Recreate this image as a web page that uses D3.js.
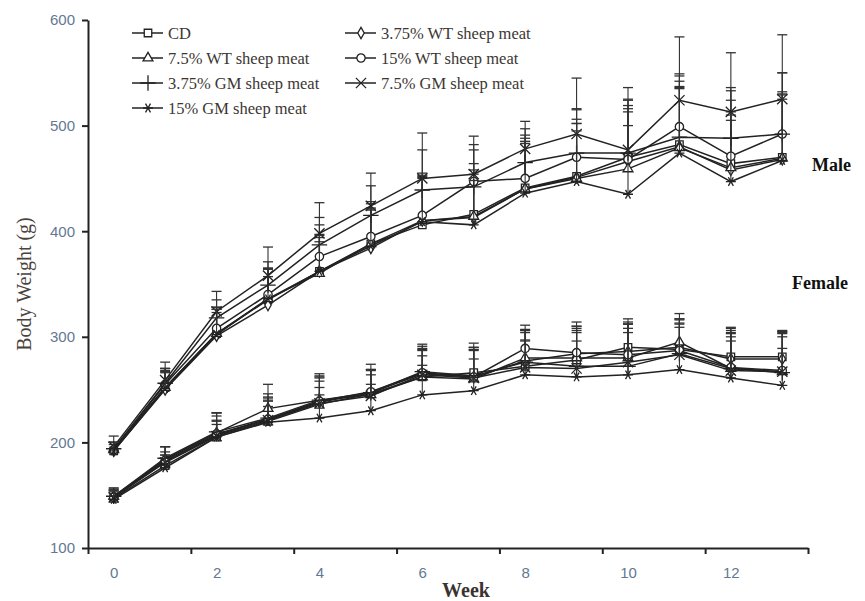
<!DOCTYPE html>
<html>
<head>
<meta charset="utf-8">
<script src="https://cdn.jsdelivr.net/npm/d3@7"></script>
<style>
  body { margin: 0; background: #fff; }
  svg { display: block; }
</style>
</head>
<body>
<div id="chart"></div>
<script>
// Data
const weeks = [0, 1, 2, 3, 4, 5, 6, 7, 8, 9, 10, 11, 12, 13];
const xTickMarks = [-0.5, 1.5, 3.5, 5.5, 7.5, 9.5, 11.5, 13.5];
const xTickLabels = [0, 2, 4, 6, 8, 10, 12];
const yTicks = [100, 200, 300, 400, 500, 600];
const seriesNames = ["CD", "3.75% WT sheep meat", "7.5% WT sheep meat", "15% WT sheep meat",
  "3.75% GM sheep meat", "7.5% GM sheep meat", "15% GM sheep meat"];

// Male means
const maleCD    = [192, 252, 303, 335, 362, 388, 406, 416, 441, 452, 470, 482, 464, 470];
const maleWT375 = [192, 250, 301, 330, 362, 384, 410, 413, 440, 451, 466, 480, 458, 468];
const maleWT75  = [193, 252, 303, 336, 360, 388, 410, 414, 440, 450, 459, 479, 460, 469];
const maleWT15  = [193, 255, 308, 340, 376, 395, 415, 447, 450, 470, 468, 499, 471, 492];
const maleGM375 = [194, 256, 318, 349, 387, 415, 439, 442, 465, 474, 474, 489, 488, 492];
const maleGM75  = [196, 259, 324, 358, 398, 424, 450, 454, 478, 492, 477, 524, 513, 525];
const maleGM15  = [192, 251, 302, 336, 362, 386, 409, 406, 436, 447, 435, 474, 447, 467];
// Male SD (upper bars)
const maleCDsd    = [8, 18, 25, 30, 35, 38, 45, 48, 50, 50, 55, 60, 60, 55];
const maleWT375sd = [6, 16, 22, 27, 32, 36, 40, 45, 48, 55, 50, 55, 55, 62];
const maleWT75sd  = [7, 15, 23, 28, 30, 34, 42, 40, 45, 52, 60, 58, 50, 60];
const maleWT15sd  = [7, 15, 20, 24, 30, 33, 40, 30, 35, 45, 45, 50, 62, 58];
const maleGM375sd = [6, 14, 17, 22, 26, 28, 38, 40, 32, 42, 50, 58, 48, 58];
const maleGM75sd  = [10, 17, 19, 27, 29, 31, 43, 36, 26, 53, 59, 60, 56, 61];
const maleGM15sd  = [8, 17, 24, 29, 34, 35, 44, 42, 47, 48, 65, 62, 58, 65];

// Female means
const femaleCD    = [147, 178, 205, 220, 236, 246, 262, 266, 272, 278, 290, 288, 281, 281];
const femaleWT375 = [148, 182, 207, 222, 238, 247, 265, 262, 277, 284, 286, 290, 279, 279];
const femaleWT75  = [149, 184, 209, 232, 240, 245, 262, 260, 280, 280, 280, 295, 270, 267];
const femaleWT15  = [148, 183, 208, 222, 239, 248, 266, 262, 289, 285, 283, 287, 271, 268];
const femaleGM375 = [149, 185, 210, 223, 240, 247, 267, 263, 276, 272, 272, 284, 270, 266];
const femaleGM75  = [148, 181, 206, 221, 237, 244, 264, 261, 271, 270, 276, 283, 268, 267];
const femaleGM15  = [146, 176, 205, 219, 223, 230, 245, 249, 264, 262, 264, 269, 261, 254];
// Female SD
const femaleCDsd    = [5, 10, 12, 14, 16, 18, 20, 22, 25, 28, 22, 25, 22, 22];
const femaleWT375sd = [6, 9, 14, 18, 20, 22, 22, 28, 30, 24, 26, 27, 25, 26];
const femaleWT75sd  = [7, 12, 16, 23, 22, 24, 26, 30, 24, 30, 32, 27, 30, 33];
const femaleWT15sd  = [9, 13, 20, 20, 26, 26, 27, 32, 22, 29, 34, 30, 38, 36];
const femaleGM375sd = [6, 11, 18, 20, 23, 22, 24, 24, 30, 32, 36, 28, 36, 40];
const femaleGM75sd  = [7, 15, 22, 25, 24, 24, 25, 27, 35, 40, 38, 33, 40, 38];
const femaleGM15sd  = [8, 12, 15, 20, 22, 25, 28, 30, 32, 34, 40, 40, 35, 35];

const maleMeans = [maleCD, maleWT375, maleWT75, maleWT15, maleGM375, maleGM75, maleGM15];
const maleSds = [maleCDsd, maleWT375sd, maleWT75sd, maleWT15sd, maleGM375sd, maleGM75sd, maleGM15sd];
const femaleMeans = [femaleCD, femaleWT375, femaleWT75, femaleWT15, femaleGM375, femaleGM75, femaleGM15];
const femaleSds = [femaleCDsd, femaleWT375sd, femaleWT75sd, femaleWT15sd, femaleGM375sd, femaleGM75sd, femaleGM15sd];

// marker shapes per series
const symbols = [
  { type: d3.symbolSquare, size: 56, fill: "#fff" },
  { type: d3.symbolDiamond, size: 36, fill: "#fff" },
  { type: d3.symbolTriangle, size: 42, fill: "#fff" },
  { type: d3.symbolCircle, size: 54, fill: "#fff" },
  { type: d3.symbolPlus || d3.symbolCross, size: 80, fill: "none" },
  { type: d3.symbolTimes || d3.symbolCross, size: 70, fill: "none" },
  { type: d3.symbolAsterisk || d3.symbolStar, size: 70, fill: "none", rotate: 90 }
];

const width = 865;
const height = 601;
const ink = "#222";

const svg = d3.select("#chart")
  .append("svg")
  .attr("width", width)
  .attr("height", height);

const x = d3.scaleLinear().domain([-0.5, 13.5]).range([88, 808]);
const y = d3.scaleLinear().domain([100, 600]).range([548, 20]);

// Y axis
const yAxis = svg.append("g")
  .attr("transform", "translate(88,0)")
  .call(d3.axisLeft(y).tickValues(yTicks).tickSize(6).tickSizeOuter(0).tickPadding(7));
yAxis.select(".domain").attr("stroke", ink).attr("stroke-width", 2);
yAxis.selectAll(".tick line").attr("stroke", ink).attr("stroke-width", 2);
yAxis.selectAll("text")
  .attr("font-family", "Liberation Sans, Arial, sans-serif")
  .attr("font-size", 15)
  .attr("fill", "#637892");

// X axis: tick marks between categories
const xAxis = svg.append("g")
  .attr("transform", "translate(0,548)")
  .call(d3.axisBottom(x).tickValues(xTickMarks).tickSize(6).tickSizeOuter(0).tickFormat(""));
xAxis.select(".domain").attr("stroke", ink).attr("stroke-width", 2);
xAxis.selectAll(".tick line").attr("stroke", ink).attr("stroke-width", 2);

// X labels
const xLab = svg.append("g")
  .attr("transform", "translate(0,548)")
  .call(d3.axisBottom(x).tickValues(xTickLabels).tickSize(0).tickPadding(19));
xLab.select(".domain").remove();
xLab.selectAll("text")
  .attr("font-family", "Liberation Sans, Arial, sans-serif")
  .attr("font-size", 15)
  .attr("fill", "#637892");

// Axis titles
svg.append("text")
  .attr("transform", "translate(31,284) rotate(-90)")
  .attr("text-anchor", "middle")
  .attr("font-family", "Liberation Serif, Times New Roman, serif")
  .attr("font-size", 20)
  .attr("fill", "#4b423c")
  .text("Body Weight (g)");

svg.append("text")
  .attr("x", 466)
  .attr("y", 597)
  .attr("text-anchor", "middle")
  .attr("font-family", "Liberation Serif, Times New Roman, serif")
  .attr("font-weight", "bold")
  .attr("font-size", 20)
  .attr("fill", "#3a3330")
  .text("Week");

// Line generator
const line = d3.line()
  .x((d, i) => x(weeks[i]))
  .y(d => y(d));

function symbolPath(s) {
  return d3.symbol().type(s.type).size(s.size)();
}

function drawGroup(means, sds) {
  means.forEach((vals, k) => {
    const g = svg.append("g");
    const s = symbols[k];

    g.append("path")
      .datum(vals)
      .attr("fill", "none")
      .attr("stroke", ink)
      .attr("stroke-width", 1.5)
      .attr("d", line);

    // error bars (upper only)
    const err = g.selectAll(".err")
      .data(vals)
      .join("g");
    err.append("line")
      .attr("x1", (d, i) => x(weeks[i]))
      .attr("x2", (d, i) => x(weeks[i]))
      .attr("y1", d => y(d))
      .attr("y2", (d, i) => y(d + sds[k][i]))
      .attr("stroke", "#333")
      .attr("stroke-width", 1.1);
    err.append("line")
      .attr("x1", (d, i) => x(weeks[i]) - 5)
      .attr("x2", (d, i) => x(weeks[i]) + 5)
      .attr("y1", (d, i) => y(d + sds[k][i]))
      .attr("y2", (d, i) => y(d + sds[k][i]))
      .attr("stroke", "#333")
      .attr("stroke-width", 1.3);

    g.selectAll(".mk")
      .data(vals)
      .join("path")
      .attr("transform", (d, i) => `translate(${x(weeks[i])},${y(d)}) rotate(${s.rotate || 0})`)
      .attr("d", symbolPath(s))
      .attr("fill", s.fill)
      .attr("stroke", ink)
      .attr("stroke-width", 1.3);
  });
}

drawGroup(maleMeans, maleSds);
drawGroup(femaleMeans, femaleSds);

// Group labels
svg.append("text")
  .attr("x", 812).attr("y", 171)
  .attr("font-family", "Liberation Serif, Times New Roman, serif")
  .attr("font-weight", "bold").attr("font-size", 18)
  .attr("fill", "#111")
  .text("Male");
svg.append("text")
  .attr("x", 792).attr("y", 289)
  .attr("font-family", "Liberation Serif, Times New Roman, serif")
  .attr("font-weight", "bold").attr("font-size", 18)
  .attr("fill", "#111")
  .text("Female");

// Legend
const legend = svg.append("g");
seriesNames.forEach((name, i) => {
  const col = i % 2;
  const row = Math.floor(i / 2);
  const lx = col === 0 ? 132 : 345;
  const ly = 33 + row * 25;
  const s = symbols[i];
  legend.append("line")
    .attr("x1", lx).attr("x2", lx + 31)
    .attr("y1", ly).attr("y2", ly)
    .attr("stroke", ink).attr("stroke-width", 1.5);
  legend.append("path")
    .attr("transform", `translate(${lx + 16},${ly}) rotate(${s.rotate || 0})`)
    .attr("d", symbolPath(s))
    .attr("fill", s.fill)
    .attr("stroke", ink)
    .attr("stroke-width", 1.3);
  legend.append("text")
    .attr("x", lx + 36)
    .attr("y", ly)
    .attr("dy", "0.35em")
    .attr("font-family", "Liberation Serif, Times New Roman, serif")
    .attr("font-size", 16.5)
    .attr("fill", "#3c3733")
    .text(name);
});
</script>
</body>
</html>
